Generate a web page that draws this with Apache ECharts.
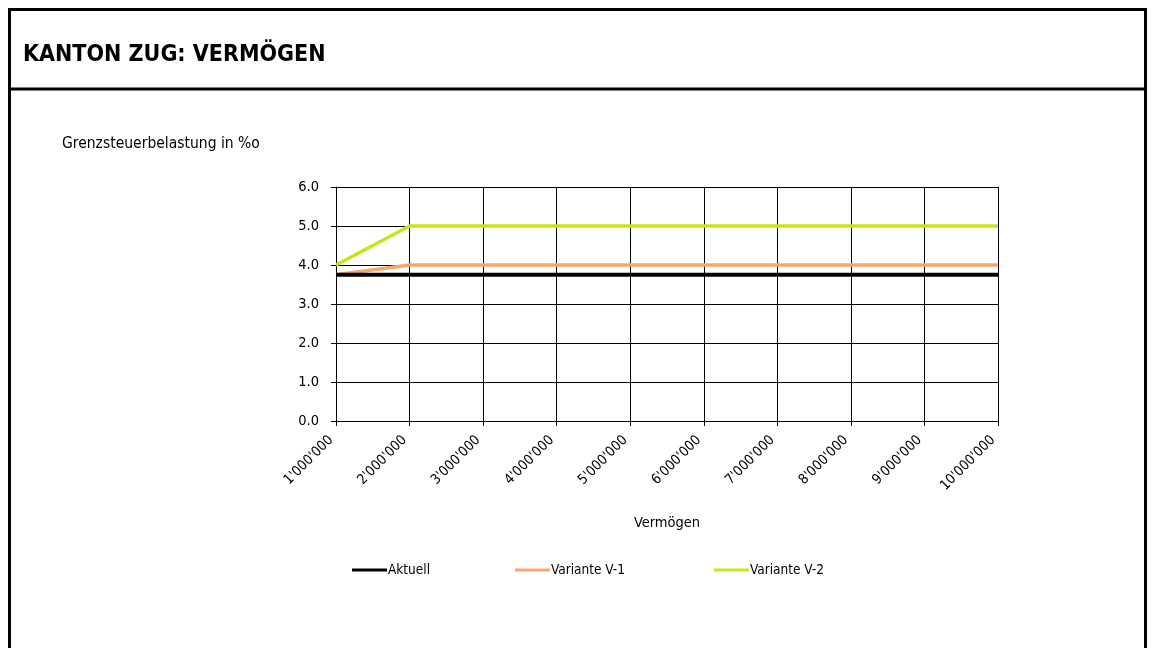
<!DOCTYPE html>
<html>
<head>
<meta charset="utf-8">
<script src="https://cdn.jsdelivr.net/npm/echarts@6/dist/echarts.min.js"></script>
<style>
  html, body { margin: 0; padding: 0; background: #fff; }
  #chart { width: 1153px; height: 648px; }
</style>
</head>
<body>
<div id="chart"></div>
<script>
// Vermögen categories (x axis)
const categories = ['1\'000\'000', '2\'000\'000', '3\'000\'000', '4\'000\'000', '5\'000\'000',
  '6\'000\'000', '7\'000\'000', '8\'000\'000', '9\'000\'000', '10\'000\'000'];
// Grenzsteuerbelastung in ‰
const aktuell  = [3.75, 3.75, 3.75, 3.75, 3.75, 3.75, 3.75, 3.75, 3.75, 3.75];
const varianteV1 = [3.75, 4.0, 4.0, 4.0, 4.0, 4.0, 4.0, 4.0, 4.0, 4.0];
const varianteV2 = [4.0, 5.0, 5.0, 5.0, 5.0, 5.0, 5.0, 5.0, 5.0, 5.0];
const seriesNames = ['Aktuell', 'Variante V-1', 'Variante V-2'];
const seriesColors = ['#000000', '#F9A66C', '#CCE31A'];

const FONT = '"DejaVu Sans Condensed", "DejaVu Sans", sans-serif';
const chart = echarts.init(document.getElementById('chart'));

function legendAt(i, left) {
  return {
    data: [seriesNames[i]], left: left, top: 558, itemWidth: 35, itemHeight: 14, itemGap: 0,
    icon: 'path://M0,6 L35,6 L35,9 L0,9 Z',
    textStyle: { fontFamily: FONT, fontSize: 13.5, color: '#000', padding: [0, 0, 0, -4] }
  };
}

chart.setOption({
  animation: false,
  graphic: [
    { type: 'rect', shape: { x: 9.5, y: 9.5, width: 1136, height: 660 },
      style: { fill: 'none', stroke: '#000', lineWidth: 3 } },
    { type: 'line', shape: { x1: 9, y1: 89, x2: 1146, y2: 89 },
      style: { stroke: '#000', lineWidth: 3 } },
    { type: 'text', left: 23, top: 44,
      style: { text: 'KANTON ZUG: VERMÖGEN', font: 'bold 23px ' + FONT, fill: '#000' } },
    { type: 'text', left: 62, top: 136,
      style: { text: 'Grenzsteuerbelastung in %o', font: '15.5px ' + FONT, fill: '#000' } }
  ],
  legend: [legendAt(0, 347), legendAt(1, 510), legendAt(2, 709)],
  grid: { left: 336, right: 155, top: 187, height: 234, containLabel: false },
  xAxis: {
    type: 'category', data: categories, boundaryGap: false,
    name: 'Vermögen', nameLocation: 'middle', nameGap: 95,
    nameTextStyle: { fontFamily: FONT, fontSize: 14.5, color: '#000' },
    axisLine: { lineStyle: { color: '#000', width: 1 } },
    axisTick: { show: true, length: 5, lineStyle: { color: '#000' } },
    axisLabel: { rotate: 45, fontFamily: FONT, fontSize: 14, color: '#000', margin: 12,
      padding: [0, 7, 0, 0] },
    splitLine: { show: true, lineStyle: { color: '#000', width: 1 } }
  },
  yAxis: {
    type: 'value', min: 0, max: 6, interval: 1,
    axisLine: { show: true, lineStyle: { color: '#000', width: 1 } },
    axisTick: { show: true, length: 5, inside: false, lineStyle: { color: '#000' } },
    axisLabel: { fontFamily: FONT, fontSize: 14.5, color: '#000', margin: 17,
      formatter: v => v.toFixed(1) },
    splitLine: { show: true, lineStyle: { color: '#000', width: 1 } }
  },
  series: [aktuell, varianteV1, varianteV2].map((d, i) => ({
    name: seriesNames[i], type: 'line', data: d, showSymbol: false, symbol: 'none',
    z: 3 - i,
    lineStyle: { color: seriesColors[i], width: i === 0 ? 4 : 3.5 },
    itemStyle: { color: seriesColors[i] }
  }))
});
</script>
</body>
</html>
